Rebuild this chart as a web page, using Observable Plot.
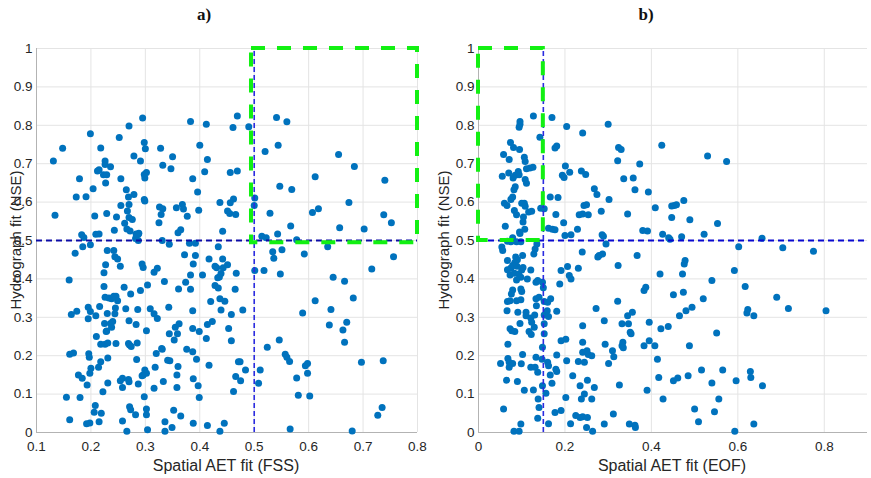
<!DOCTYPE html>
<html>
<head>
<meta charset="utf-8">
<script src="https://cdn.jsdelivr.net/npm/d3@7"></script>
<script src="https://cdn.jsdelivr.net/npm/@observablehq/plot@0.6"></script>
<style>
  html, body { margin: 0; padding: 0; background: #fff; }
  #wrap { position: relative; width: 871px; height: 478px; background: #fff; overflow: hidden; font-family: "Liberation Sans", Arial, sans-serif; }
  #wrap svg { position: absolute; top: 0; background: transparent; }
  .lbl { position: absolute; white-space: nowrap; color: #262626; font-size: 15px; transform: translate(-50%, -50%); }
  .xl { font-size: 16px; }
  .ttl { position: absolute; white-space: nowrap; color: #111; font-family: "Liberation Serif", "DejaVu Serif", serif; font-weight: bold; font-size: 17px; transform: translate(-50%, -50%); }
  .rot { transform: translate(-50%, -50%) rotate(-90deg); }
</style>
</head>
<body>
<div id="wrap"></div>
<script>
// ---- Tick values ----
const yTicks = [0, 0.1, 0.2, 0.3, 0.4, 0.5, 0.6, 0.7, 0.8, 0.9, 1];
const xTicksFSS = [0.1, 0.2, 0.3, 0.4, 0.5, 0.6, 0.7, 0.8];
const xTicksEOF = [0, 0.2, 0.4, 0.6, 0.8];

// ---- Thresholds / selection boxes ----
const nseThreshold = 0.5;
const fssThreshold = 0.5;
const eofThreshold = 0.15;
const boxFSS = {x1: 0.495, x2: 0.8, y1: 0.494, y2: 1.0};
const boxEOF = {x1: 0.0, x2: 0.15, y1: 0.5, y2: 1.0};

// ---- Panel a) : [FSS, NSE] ----
const fssPoints = [
[0.131,0.707],[0.148,0.740],[0.134,0.566],[0.179,0.661],[0.173,0.613],[0.191,0.614],[0.199,0.778],[0.204,0.635],[0.207,0.564],[0.218,0.741],[0.212,0.681],[0.215,0.684],[0.226,0.707],[0.226,0.698],[0.223,0.671],[0.229,0.671],[0.227,0.650],[0.236,0.692],[0.229,0.570],[0.247,0.561],[0.243,0.527],[0.252,0.768],[0.255,0.661],[0.255,0.591],[0.262,0.545],[0.265,0.632],[0.267,0.577],[0.269,0.613],[0.270,0.594],[0.270,0.560],[0.276,0.555],[0.266,0.530],[0.272,0.525],[0.270,0.798],[0.279,0.720],[0.279,0.620],[0.291,0.707],[0.295,0.819],[0.298,0.755],[0.300,0.739],[0.298,0.672],[0.299,0.663],[0.302,0.677],[0.298,0.607],[0.299,0.603],[0.287,0.516],[0.282,0.505],[0.328,0.740],[0.332,0.696],[0.326,0.587],[0.332,0.583],[0.329,0.568],[0.325,0.546],[0.347,0.687],[0.350,0.718],[0.357,0.585],[0.365,0.528],[0.368,0.594],[0.370,0.582],[0.377,0.563],[0.383,0.810],[0.387,0.661],[0.400,0.748],[0.396,0.626],[0.398,0.579],[0.412,0.803],[0.409,0.679],[0.414,0.711],[0.437,0.599],[0.442,0.524],[0.461,0.794],[0.469,0.824],[0.456,0.677],[0.469,0.681],[0.462,0.608],[0.456,0.598],[0.451,0.577],[0.455,0.570],[0.466,0.568],[0.490,0.796],[0.501,0.611],[0.500,0.591],[0.520,0.732],[0.541,0.820],[0.560,0.809],[0.544,0.748],[0.547,0.641],[0.569,0.633],[0.529,0.571],[0.567,0.538],[0.655,0.724],[0.612,0.666],[0.684,0.693],[0.740,0.657],[0.674,0.599],[0.607,0.573],[0.618,0.583],[0.738,0.567],[0.752,0.546],[0.657,0.533],[0.702,0.530],
[0.183,0.515],[0.187,0.508],[0.185,0.484],[0.199,0.489],[0.209,0.516],[0.215,0.517],[0.288,0.519],[0.287,0.500],[0.283,0.517],[0.360,0.520],
[0.171,0.467],[0.160,0.397],[0.230,0.474],[0.227,0.437],[0.242,0.474],[0.244,0.458],[0.249,0.452],[0.254,0.433],[0.224,0.416],[0.224,0.380],[0.226,0.352],[0.233,0.350],[0.238,0.348],[0.242,0.355],[0.246,0.355],[0.249,0.343],[0.261,0.378],[0.273,0.361],[0.245,0.324],[0.244,0.309],[0.230,0.310],[0.216,0.328],[0.195,0.326],[0.199,0.315],[0.195,0.296],[0.209,0.304],[0.174,0.316],[0.164,0.307],[0.225,0.284],[0.236,0.284],[0.240,0.289],[0.228,0.263],[0.210,0.250],[0.218,0.230],[0.226,0.230],[0.231,0.233],[0.246,0.232],[0.264,0.322],[0.270,0.291],[0.283,0.281],[0.286,0.320],[0.269,0.232],[0.271,0.228],[0.285,0.233],[0.161,0.204],[0.168,0.207],[0.196,0.205],[0.197,0.196],[0.218,0.184],[0.231,0.194],[0.214,0.170],[0.200,0.167],[0.198,0.154],[0.177,0.150],[0.184,0.141],[0.193,0.124],[0.155,0.092],[0.180,0.091],[0.222,0.106],[0.231,0.129],[0.254,0.135],[0.258,0.141],[0.258,0.117],[0.269,0.138],[0.270,0.132],[0.287,0.126],[0.284,0.190],[0.296,0.150],[0.299,0.163],[0.302,0.154],[0.302,0.265],[0.291,0.370],[0.304,0.384],[0.294,0.439],[0.296,0.430],[0.316,0.417],[0.322,0.428],[0.309,0.322],[0.316,0.309],[0.322,0.297],[0.331,0.217],[0.320,0.206],[0.318,0.170],[0.316,0.115],[0.333,0.133],[0.298,0.093],[0.302,0.061],[0.302,0.046],[0.282,0.046],[0.271,0.067],[0.273,0.059],[0.208,0.070],[0.206,0.053],[0.219,0.050],[0.161,0.033],[0.192,0.023],[0.198,0.025],[0.215,0.028],[0.258,0.030],[0.266,0.003],[0.304,0.007],[0.336,0.028],[0.336,0.003],[0.349,0.013],[0.352,0.058],[0.365,0.043],[0.345,0.187],[0.360,0.172],[0.358,0.150],[0.358,0.117],[0.353,0.241],[0.355,0.274],[0.359,0.257],[0.362,0.283],[0.335,0.393],[0.343,0.326],[0.344,0.257],[0.331,0.500],[0.344,0.490],[0.361,0.374],[0.372,0.463],[0.374,0.391],[0.381,0.493],[0.392,0.493],[0.392,0.461],[0.388,0.439],[0.383,0.410],[0.383,0.373],[0.387,0.317],[0.387,0.271],[0.399,0.263],[0.376,0.217],[0.387,0.210],[0.394,0.191],[0.388,0.140],[0.397,0.122],[0.399,0.091],[0.388,0.024],[0.414,0.018],[0.405,0.410],[0.412,0.245],[0.414,0.281],[0.423,0.289],[0.420,0.341],[0.417,0.175],[0.417,0.452],[0.434,0.484],[0.428,0.433],[0.428,0.383],[0.433,0.403],[0.436,0.405],[0.439,0.414],[0.434,0.376],[0.437,0.348],[0.446,0.342],[0.439,0.319],[0.442,0.452],[0.451,0.437],[0.458,0.307],[0.453,0.271],[0.458,0.239],[0.467,0.415],[0.465,0.373],[0.479,0.319],[0.466,0.146],[0.471,0.184],[0.474,0.184],[0.475,0.135],[0.484,0.163],[0.462,0.107],[0.445,0.024],[0.437,0.003],[0.501,0.422],[0.518,0.422],[0.508,0.128],[0.511,0.163],[0.524,0.222],[0.546,0.241],[0.557,0.204],[0.560,0.196],[0.565,0.185],[0.578,0.142],[0.589,0.311],[0.581,0.097],[0.566,0.009],[0.594,0.174],[0.598,0.180],[0.598,0.154],[0.602,0.095],[0.612,0.343],[0.592,0.465],[0.548,0.413],[0.534,0.471],[0.536,0.454],[0.551,0.476],[0.514,0.511],[0.522,0.507],[0.543,0.517],[0.578,0.502],[0.635,0.484],[0.645,0.404],[0.666,0.394],[0.641,0.320],[0.638,0.280],[0.682,0.350],[0.663,0.267],[0.670,0.287],[0.666,0.235],[0.697,0.183],[0.737,0.187],[0.716,0.426],[0.756,0.458],[0.727,0.045],[0.735,0.065],[0.680,0.004],
[0.229,0.264],[0.238,0.274],[0.274,0.224],[0.294,0.148],[0.341,0.188],[0.330,0.219],[0.431,0.429],[0.443,0.429]
];

// ---- Panel b) : [EOF, NSE] ----
const eofPoints = [
[0.127,0.824],[0.096,0.810],[0.094,0.795],[0.096,0.803],[0.170,0.820],[0.142,0.769],[0.204,0.797],[0.241,0.780],[0.300,0.803],[0.074,0.755],[0.081,0.742],[0.095,0.737],[0.106,0.717],[0.108,0.706],[0.058,0.724],[0.071,0.711],[0.177,0.741],[0.181,0.746],[0.201,0.694],[0.111,0.687],[0.119,0.689],[0.126,0.691],[0.092,0.680],[0.070,0.676],[0.055,0.667],[0.085,0.670],[0.080,0.663],[0.094,0.671],[0.108,0.659],[0.111,0.649],[0.194,0.670],[0.198,0.664],[0.211,0.678],[0.238,0.681],[0.248,0.672],[0.085,0.640],[0.082,0.632],[0.079,0.613],[0.075,0.607],[0.060,0.597],[0.066,0.591],[0.100,0.597],[0.106,0.597],[0.108,0.589],[0.083,0.578],[0.088,0.567],[0.104,0.561],[0.103,0.548],[0.116,0.574],[0.123,0.576],[0.144,0.584],[0.062,0.537],[0.107,0.529],[0.095,0.522],[0.096,0.518],[0.166,0.613],[0.184,0.612],[0.152,0.583],[0.179,0.568],[0.197,0.546],[0.162,0.532],[0.171,0.529],[0.177,0.528],[0.200,0.513],[0.214,0.515],[0.244,0.591],[0.233,0.567],[0.241,0.569],[0.254,0.567],[0.324,0.742],[0.330,0.737],[0.322,0.708],[0.373,0.699],[0.336,0.661],[0.358,0.663],[0.362,0.632],[0.268,0.635],[0.274,0.620],[0.302,0.607],[0.250,0.593],[0.284,0.576],[0.345,0.569],[0.286,0.515],[0.380,0.526],[0.229,0.529],[0.289,0.511],[0.079,0.507],
[0.424,0.748],[0.530,0.720],[0.574,0.706],[0.393,0.626],[0.409,0.585],[0.447,0.590],[0.453,0.591],[0.458,0.593],[0.475,0.604],[0.447,0.560],[0.489,0.554],[0.553,0.544],[0.391,0.525],[0.426,0.516],[0.440,0.507],[0.443,0.503],[0.470,0.510],[0.522,0.516],[0.656,0.506],
[0.067,0.498],[0.075,0.497],[0.088,0.497],[0.098,0.497],
[0.054,0.483],[0.056,0.474],[0.067,0.448],[0.086,0.457],[0.090,0.450],[0.084,0.443],[0.067,0.424],[0.075,0.428],[0.079,0.435],[0.089,0.433],[0.100,0.423],[0.073,0.410],[0.083,0.415],[0.093,0.413],[0.098,0.404],[0.088,0.397],[0.103,0.430],[0.102,0.461],[0.121,0.423],[0.113,0.400],[0.079,0.371],[0.076,0.361],[0.098,0.374],[0.100,0.367],[0.067,0.341],[0.073,0.343],[0.088,0.343],[0.098,0.346],[0.066,0.317],[0.091,0.313],[0.110,0.304],[0.121,0.298],[0.123,0.287],[0.129,0.274],[0.110,0.313],[0.073,0.270],[0.077,0.265],[0.084,0.263],[0.096,0.284],[0.117,0.263],[0.122,0.255],[0.068,0.230],[0.102,0.203],[0.051,0.180],[0.068,0.193],[0.071,0.183],[0.079,0.180],[0.071,0.170],[0.099,0.179],[0.065,0.136],[0.090,0.133],[0.106,0.110],[0.121,0.170],[0.131,0.170],[0.127,0.111],[0.058,0.061],[0.098,0.022],[0.082,0.003],[0.094,0.003],[0.134,0.330],[0.130,0.306],[0.133,0.196],[0.137,0.157],[0.138,0.087],[0.140,0.065],[0.137,0.037],[0.148,0.122],[0.147,0.191],[0.148,0.222],[0.152,0.257],[0.152,0.283],[0.152,0.306],[0.152,0.341],[0.150,0.377],[0.148,0.391],[0.133,0.391],[0.137,0.396],[0.133,0.348],[0.140,0.352],[0.128,0.465],[0.131,0.478],[0.135,0.491],[0.156,0.102],[0.162,0.023],[0.160,0.183],[0.162,0.174],[0.166,0.150],[0.159,0.317],[0.162,0.302],[0.167,0.348],[0.160,0.339],[0.181,0.316],[0.181,0.202],[0.170,0.128],[0.177,0.052],[0.191,0.057],[0.179,0.165],[0.181,0.159],[0.188,0.387],[0.191,0.239],[0.202,0.243],[0.204,0.187],[0.202,0.091],[0.213,0.023],[0.218,0.148],[0.225,0.044],[0.235,0.039],[0.241,0.041],[0.252,0.039],[0.231,0.185],[0.235,0.122],[0.238,0.087],[0.245,0.100],[0.252,0.136],[0.241,0.235],[0.241,0.209],[0.251,0.213],[0.254,0.203],[0.262,0.200],[0.245,0.183],[0.262,0.087],[0.268,0.117],[0.250,0.013],[0.264,0.003],[0.291,0.022],[0.312,0.048],[0.241,0.278],[0.272,0.323],[0.291,0.291],[0.293,0.230],[0.301,0.180],[0.310,0.213],[0.313,0.197],[0.326,0.124],[0.322,0.342],[0.332,0.283],[0.332,0.226],[0.335,0.221],[0.334,0.235],[0.345,0.304],[0.347,0.283],[0.351,0.261],[0.356,0.313],[0.353,0.257],[0.349,0.022],[0.363,0.013],[0.362,0.019],[0.367,0.461],[0.323,0.435],[0.276,0.457],[0.279,0.461],[0.287,0.465],[0.295,0.491],[0.240,0.470],[0.231,0.428],[0.206,0.432],[0.210,0.409],[0.214,0.400],[0.191,0.422],[0.383,0.370],[0.387,0.378],[0.383,0.226],[0.390,0.110],[0.395,0.287],[0.395,0.239],[0.408,0.226],[0.414,0.191],[0.417,0.143],[0.420,0.413],[0.422,0.270],[0.427,0.087],[0.439,0.276],[0.451,0.359],[0.451,0.135],[0.461,0.142],[0.465,0.304],[0.472,0.413],[0.476,0.439],[0.478,0.448],[0.474,0.365],[0.480,0.317],[0.485,0.148],[0.488,0.226],[0.494,0.326],[0.500,0.061],[0.509,0.028],[0.516,0.163],[0.520,0.348],[0.540,0.396],[0.540,0.129],[0.546,0.054],[0.551,0.259],[0.556,0.087],[0.565,0.163],[0.592,0.422],[0.596,0.135],[0.593,0.003],[0.602,0.484],[0.617,0.380],[0.621,0.311],[0.623,0.320],[0.637,0.304],[0.629,0.159],[0.630,0.143],[0.637,0.022],[0.657,0.122],[0.690,0.352],[0.704,0.481],[0.717,0.323],[0.775,0.472],[0.804,0.317]
];

const fmt = d => (d === 0 ? "0" : d === 1 ? "1" : String(+d.toFixed(1)));

function panel({points, xDomain, xTicks, vLine, box, width, marginLeft, marginRight, hColor}) {
  return Plot.plot({
    width, height: 478,
    marginLeft, marginRight, marginTop: 48, marginBottom: 46,
    x: {domain: xDomain},
    y: {domain: [0, 1]},
    style: {fontFamily: "Liberation Sans, Arial, sans-serif", fontSize: "13.5px", color: "#262626", background: "transparent", overflow: "visible"},
    marks: [
      Plot.gridX(xTicks, {stroke: "#e4e4e4", strokeOpacity: 1}),
      Plot.gridY(yTicks, {stroke: "#e4e4e4", strokeOpacity: 1}),
      Plot.ruleX([xDomain[0]], {stroke: "#b3b3b3"}),
      Plot.ruleY([0], {stroke: "#b3b3b3"}),
      Plot.axisX(xTicks, {tickSize: 0, tickPadding: 9, tickFormat: fmt, label: null, fill: "#262626"}),
      Plot.axisY(yTicks, {tickSize: 0, tickPadding: 4, tickFormat: fmt, label: null, fill: "#262626"}),
      Plot.dot(points, {x: d => d[0], y: d => d[1], r: 3.5, fill: "#0072BD", stroke: null}),
      Plot.ruleY([nseThreshold], {stroke: hColor, strokeWidth: 2, strokeDasharray: "6,4"}),
      Plot.ruleX([vLine], {y1: 0, y2: 1, stroke: "#2b2be0", strokeWidth: 1.6, strokeDasharray: "5,3"}),
      Plot.rect([box], {x1: "x1", x2: "x2", y1: "y1", y2: "y2", fill: "none", stroke: "#12f012", strokeWidth: 4, strokeDasharray: "14,12"})
    ]
  });
}

const wrap = document.getElementById("wrap");

const svgA = panel({points: fssPoints, xDomain: [0.1, 0.8], xTicks: xTicksFSS, vLine: fssThreshold, box: boxFSS, width: 430, marginLeft: 36, marginRight: 13, hColor: "#0c0ca8"});
svgA.style.left = "0px";
wrap.appendChild(svgA);

const svgB = panel({points: eofPoints, xDomain: [0, 0.9], xTicks: xTicksEOF, vLine: eofThreshold, box: boxEOF, width: 436, marginLeft: 43, marginRight: 4, hColor: "#0808d0"});
svgB.style.left = "435px";
wrap.appendChild(svgB);

function addText(cls, txt, x, y) {
  const d = document.createElement("div");
  d.className = cls;
  d.textContent = txt;
  d.style.left = x + "px";
  d.style.top = y + "px";
  wrap.appendChild(d);
}
addText("ttl", "a)", 204, 15);
addText("ttl", "b)", 646, 15);
addText("lbl xl", "Spatial AET fit (FSS)", 226, 466);
addText("lbl xl", "Spatial AET fit (EOF)", 672, 466);
addText("lbl rot", "Hydrograph fit (NSE)", 15, 240);
addText("lbl rot", "Hydrograph fit (NSE)", 443, 240);
</script>
</body>
</html>
